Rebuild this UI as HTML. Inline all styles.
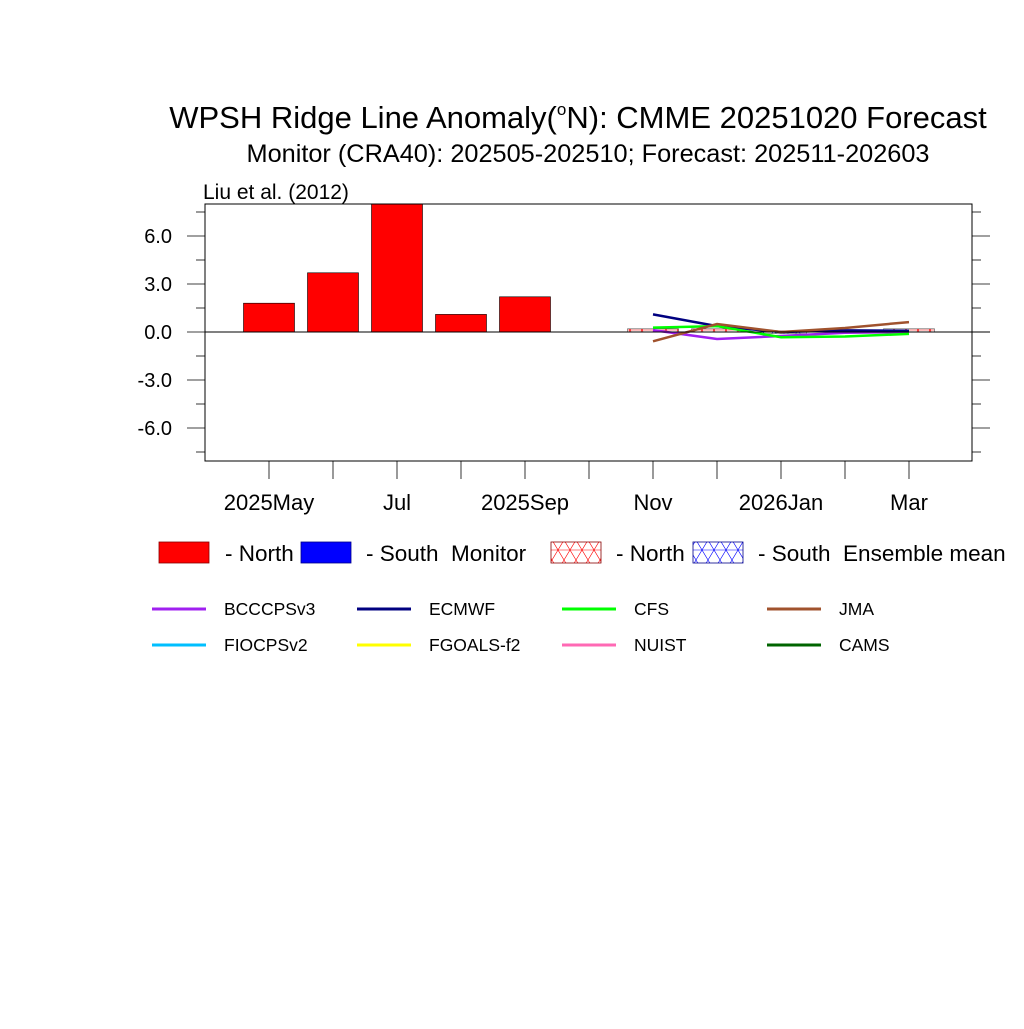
<!DOCTYPE html>
<html><head><meta charset="utf-8">
<style>
body{margin:0;background:#fff;}
svg text{font-family:"Liberation Sans",sans-serif;white-space:pre;}
</style></head>
<body>
<svg id="chart" width="1024" height="1024" xmlns="http://www.w3.org/2000/svg">
<defs>
<pattern id="hatchR" width="12" height="20" patternUnits="userSpaceOnUse">
<path d="M0,0 L12,20 M12,0 L0,20 M0,10 L12,10" stroke="#f00" stroke-width="0.6" fill="none"/>
</pattern>
<pattern id="hatchB" width="12" height="20" patternUnits="userSpaceOnUse">
<path d="M0,0 L12,20 M12,0 L0,20 M0,10 L12,10" stroke="#00f" stroke-width="0.6" fill="none"/>
</pattern>
</defs>
<text x="578" y="128" font-size="31" text-anchor="middle">WPSH Ridge Line Anomaly(<tspan font-size="17" dy="-13">o</tspan><tspan dy="13">N): CMME 20251020 Forecast</tspan></text>
<text x="588" y="162" font-size="25.3" text-anchor="middle">Monitor (CRA40): 202505-202510; Forecast: 202511-202603</text>
<text x="203" y="199" font-size="21">Liu et al. (2012)</text>
<g id="plot"></g>
<g id="legend"></g>
</svg>
<script>
const months=["2025May","Jun","Jul","Aug","2025Sep","Oct","Nov","Dec","2026Jan","Feb","Mar"];
const monthLabels=["2025May","","Jul","","2025Sep","","Nov","","2026Jan","","Mar"];
const monitorValues=[1.8,3.7,8.5,1.1,2.2];
const ensembleValues=[0.2,0.2,-0.1,0.02,0.2];
const forecastStart=6;
const yTicks=[-6,-3,0,3,6];
const seriesNames=["BCCCPSv3","ECMWF","CFS","JMA"];
const bcc=[0.12,-0.44,-0.25,-0.05,0.0];
const ecmwf=[1.1,0.37,0.0,0.1,0.08];
const cfs=[0.27,0.37,-0.33,-0.28,-0.12];
const jma=[-0.58,0.5,0.0,0.25,0.62];
const seriesColors=["#a020f0","#000080","#00ff00","#a0522d"];
const seriesData=[bcc,ecmwf,cfs,jma];
const legendNames=["BCCCPSv3","ECMWF","CFS","JMA","FIOCPSv2","FGOALS-f2","NUIST","CAMS"];
const legendColors=["#a020f0","#000080","#00ff00","#a0522d","#00bfff","#ffff00","#ff69b4","#006400"];

const NS="http://www.w3.org/2000/svg";
const L=205,R=972,T=204,B=461;
const xs=i=>269+64*i;
const ys=v=>332-16*v;
function mk(tag,attrs,parent){const e=document.createElementNS(NS,tag);for(const k in attrs)e.setAttribute(k,attrs[k]);parent.appendChild(e);return e;}
const plot=document.getElementById('plot');
const clip=mk('clipPath',{id:'pc'},plot);mk('rect',{x:L,y:T,width:R-L,height:B-T},clip);
const g=mk('g',{'clip-path':'url(#pc)'},plot);
monitorValues.forEach((v,i)=>{
 const r=mk('rect',{x:xs(i)-25.5,y:Math.min(ys(v),ys(0)),width:51,height:Math.abs(ys(v)-ys(0)),fill:v>=0?'#f00':'#00f',stroke:'#000','stroke-width':0.6},g);
 
 
});
ensembleValues.forEach((v,k)=>{
 const i=forecastStart+k;
 const r=mk('rect',{x:xs(i)-25.5,y:Math.min(ys(v),ys(0)),width:51,height:Math.max(Math.abs(ys(v)-ys(0)),0.5),fill:v>=0?'url(#hatchR)':'url(#hatchB)',stroke:'#555','stroke-width':0.6},g);
 
 
});
const zl=mk('line',{x1:L,x2:990,y1:ys(0),y2:ys(0),stroke:'#000','stroke-width':1},plot);


seriesData.forEach((d,s)=>{
 const p=mk('polyline',{points:d.map((v,k)=>xs(forecastStart+k)+','+ys(v)).join(' '),fill:'none',stroke:seriesColors[s],'stroke-width':2.5},g);
 
 
});
const fr=mk('rect',{x:L,y:T,width:R-L,height:B-T,fill:'none',stroke:'#000','stroke-width':1},plot);


for(let v=-7.5;v<=7.5;v+=1.5){
 const major=Number.isInteger(v/3);
 const w=major?18:9;
 mk('line',{x1:L-w,x2:L,y1:ys(v),y2:ys(v),stroke:'#000','stroke-width':0.8},plot);
 mk('line',{x1:R,x2:R+w,y1:ys(v),y2:ys(v),stroke:'#000','stroke-width':0.8},plot);
}
yTicks.forEach(v=>{
 const t=mk('text',{x:172,y:ys(v)+7,'font-size':20,'text-anchor':'end'},plot);
 t.textContent=v.toFixed(1);
 
 
});
months.forEach((m,i)=>{
 mk('line',{x1:xs(i),x2:xs(i),y1:B,y2:B+18,stroke:'#000','stroke-width':0.8},plot);
 if(monthLabels[i]){
  const t=mk('text',{x:xs(i),y:510,'font-size':22,'text-anchor':'middle'},plot);
  t.textContent=monthLabels[i];
  
  
 }
});
const lg=document.getElementById('legend');
function box(x,fill,stroke,name){const r=mk('rect',{x:x,y:542,width:50,height:21,fill:fill,stroke:stroke,'stroke-width':0.8},lg);}
function txt(x,y,s,fs,name){const t=mk('text',{x:x,y:y,'font-size':fs},lg);t.textContent=s;}
box(159,'#f00','#800','legend-monitor-north');txt(225,561,'- North',22.5,'legend-label');
box(301,'#00f','#008','legend-monitor-south');txt(366,561,'- South  Monitor',22.5,'legend-label');
box(551,'url(#hatchR)','#800','legend-ensemble-north');txt(616,561,'- North',22.5,'legend-label');
box(693,'url(#hatchB)','#008','legend-ensemble-south');txt(758,561,'- South  Ensemble mean',22.5,'legend-label');
legendNames.forEach((n,k)=>{
 const col=k%4,row=Math.floor(k/4);
 const x=152+205*col,y=609+36*row;
 const l=mk('line',{x1:x,x2:x+54,y1:y,y2:y,stroke:legendColors[k],'stroke-width':3},lg);
 
 
 txt(x+72,y+6,n,17.5,'legend-entry-'+n.toLowerCase());
});
</script>
</body></html>
